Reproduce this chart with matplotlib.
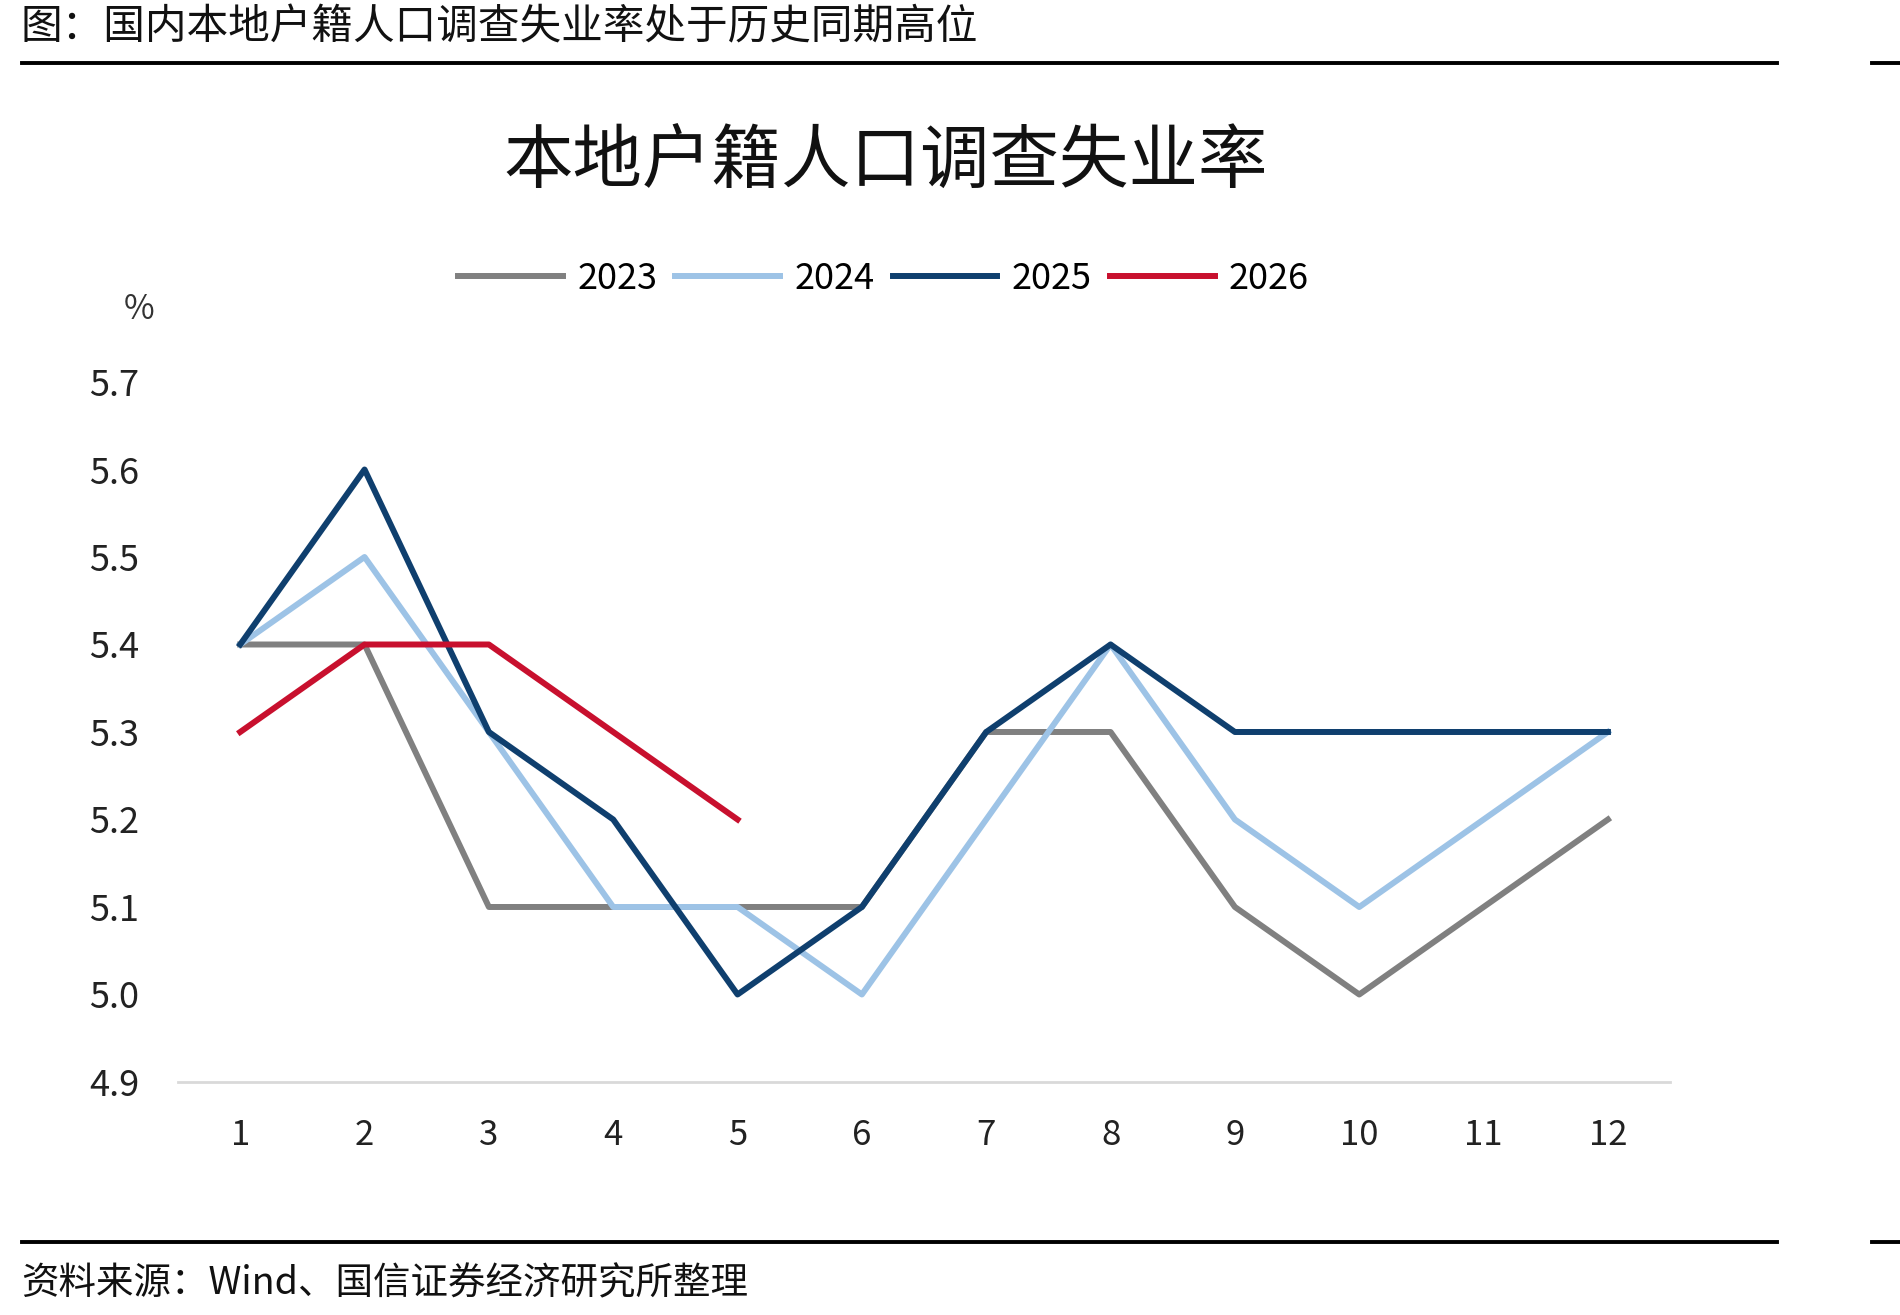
import matplotlib
matplotlib.use('Agg')
import matplotlib.pyplot as plt
from matplotlib.lines import Line2D

plt.rcParams['font.family'] = ['Noto Sans CJK SC', 'DejaVu Sans']

months = [1, 2, 3, 4, 5, 6, 7, 8, 9, 10, 11, 12]
rate_2023 = [5.4, 5.4, 5.1, 5.1, 5.1, 5.1, 5.3, 5.3, 5.1, 5.0, 5.1, 5.2]
rate_2024 = [5.4, 5.5, 5.3, 5.1, 5.1, 5.0, 5.2, 5.4, 5.2, 5.1, 5.2, 5.3]
rate_2025 = [5.4, 5.6, 5.3, 5.2, 5.0, 5.1, 5.3, 5.4, 5.3, 5.3, 5.3, 5.3]
rate_2026 = [5.3, 5.4, 5.4, 5.3, 5.2]
yticks = [4.9, 5.0, 5.1, 5.2, 5.3, 5.4, 5.5, 5.6, 5.7]

fig = plt.figure(figsize=(19, 13.15), dpi=100)
ax = fig.add_axes([0.0937, 0.1772, 0.7853, 0.5323])

lw = 4.3
ax.plot(months, rate_2023, color='#808080', lw=lw, label='2023')
ax.plot(months, rate_2024, color='#9DC3E6', lw=lw, label='2024')
ax.plot(months, rate_2025, color='#0F3F6E', lw=lw, label='2025')
ax.plot(months[:len(rate_2026)], rate_2026, color='#C8102E', lw=lw, label='2026')

ax.set_xlim(0.5, 12.5)
ax.set_ylim(4.9, 5.7)
ax.set_xticks(months)
ax.set_xticklabels([str(m) for m in months], fontsize=25)
ax.set_yticks(yticks)
ax.set_yticklabels(['%.1f' % v for v in yticks], fontsize=26)
ax.tick_params(axis='both', length=0, colors='#222222')
ax.tick_params(axis='y', pad=28)
ax.tick_params(axis='x', pad=26)
for s in ['top', 'right', 'left']:
    ax.spines[s].set_visible(False)
ax.spines['bottom'].set_color('#D9D9D9')
ax.spines['bottom'].set_linewidth(2)

fig.legend(loc='center', bbox_to_anchor=(0.465, 0.788), ncol=4, frameon=False,
           fontsize=26, handlelength=2.9, columnspacing=0.5, handletextpad=0.4)

fig.text(0.466, 0.876, '本地户籍人口调查失业率', fontsize=50, ha='center', va='center',
         color='#111111', fontweight='medium')
fig.text(0.073, 0.765, '%', fontsize=24, ha='center', va='center', color='#333333')

# header / footer
fig.text(0.011, 0.979, '图：国内本地户籍人口调查失业率处于历史同期高位', fontsize=30,
         ha='left', va='center', color='#111111')
fig.text(0.011, 0.024, '资料来源：Wind、国信证券经济研究所整理', fontsize=27,
         ha='left', va='center', color='#111111')
for y in [1 - 63 / 1315, 1 - 1242 / 1315]:
    fig.add_artist(Line2D([0.0116, 0.935], [y, y], color='black', lw=2.8))
    fig.add_artist(Line2D([0.985, 1.0], [y, y], color='black', lw=2.8))

fig.savefig('out.png', dpi=100)
